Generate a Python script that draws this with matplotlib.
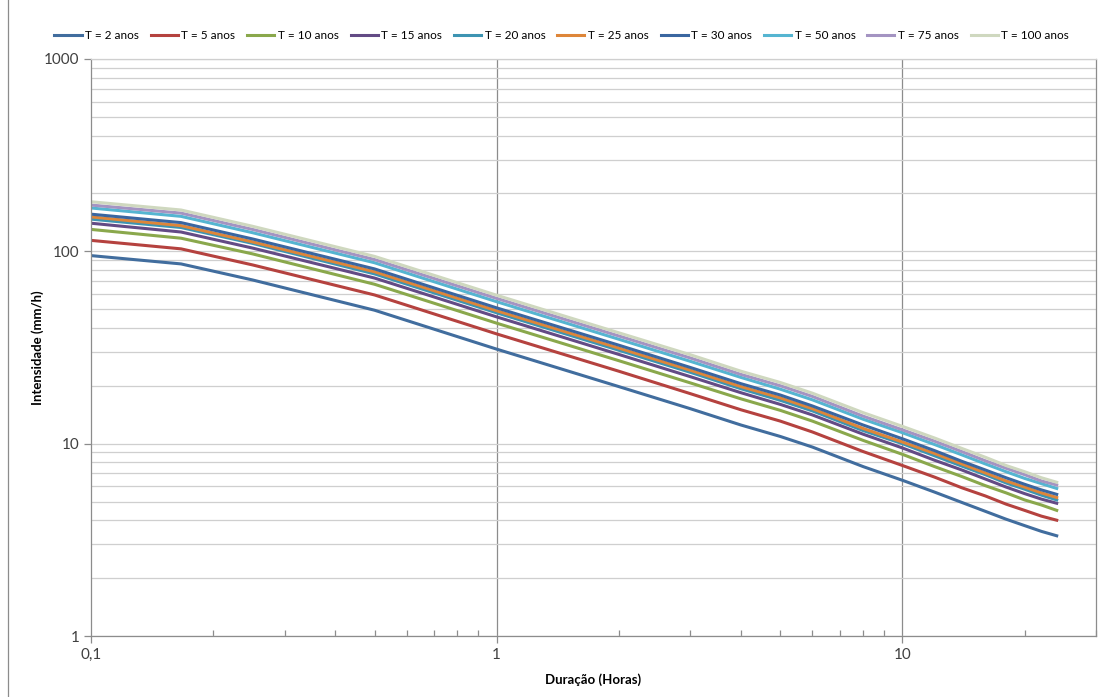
import matplotlib
matplotlib.use("Agg")
import matplotlib.pyplot as plt
from matplotlib.ticker import FixedLocator, FuncFormatter, NullFormatter, LogLocator
from matplotlib.lines import Line2D

plt.rcParams['font.family'] = ['Lato', 'DejaVu Sans']

# Duração (horas)
duracao = [0.1, 0.1667, 0.25, 0.5, 1, 2, 3, 4, 5, 6, 8, 10, 12, 14, 16, 18, 20, 22, 24]

# Intensidade (mm/h) por período de retorno
t2 = [95, 86, 71, 49.4, 31, 19.8, 15.2, 12.5, 10.9, 9.6, 7.6, 6.45, 5.6, 4.95, 4.45, 4.05, 3.75, 3.5, 3.32]
t5 = [114, 103, 85, 59.3, 37.2, 23.8, 18.2, 15.0, 13.1, 11.5, 9.1, 7.7, 6.7, 5.9, 5.35, 4.85, 4.5, 4.2, 4.0]
t10 = [130, 117, 97, 67.4, 42.3, 27.0, 20.7, 17.1, 14.9, 13.1, 10.4, 8.8, 7.6, 6.75, 6.05, 5.55, 5.1, 4.8, 4.5]
t15 = [140, 126, 104, 72.6, 45.6, 29.1, 22.3, 18.4, 16.0, 14.1, 11.2, 9.5, 8.2, 7.3, 6.55, 5.95, 5.5, 5.15, 4.9]
t20 = [147, 133, 110, 76.3, 47.9, 30.6, 23.5, 19.3, 16.8, 14.8, 11.7, 10.0, 8.65, 7.65, 6.9, 6.25, 5.8, 5.4, 5.1]
t25 = [151, 136, 112, 78.3, 49.1, 31.4, 24.1, 19.8, 17.3, 15.2, 12.0, 10.2, 8.9, 7.85, 7.05, 6.4, 5.95, 5.55, 5.25]
t30 = [156, 141, 116, 81.0, 50.8, 32.5, 24.9, 20.5, 17.9, 15.7, 12.5, 10.6, 9.2, 8.1, 7.3, 6.65, 6.15, 5.75, 5.45]
t50 = [168, 152, 125, 87.2, 54.7, 34.9, 26.8, 22.1, 19.2, 16.9, 13.4, 11.4, 9.9, 8.75, 7.85, 7.15, 6.6, 6.2, 5.85]
t75 = [174, 158, 130, 90.6, 56.9, 36.3, 27.9, 22.9, 20.0, 17.6, 13.9, 11.8, 10.3, 9.1, 8.15, 7.45, 6.9, 6.4, 6.1]
t100 = [181, 164, 135, 94.1, 59.1, 37.7, 29.0, 23.8, 20.8, 18.3, 14.5, 12.3, 10.7, 9.45, 8.5, 7.7, 7.15, 6.65, 6.3]

labels = ['T = 2 anos', 'T = 5 anos', 'T = 10 anos', 'T = 15 anos', 'T = 20 anos',
          'T = 25 anos', 'T = 30 anos', 'T = 50 anos', 'T = 75 anos', 'T = 100 anos']
series = [t2, t5, t10, t15, t20, t25, t30, t50, t75, t100]
colors = ['#416D9E', '#B5423F', '#8AA84C', '#634B85', '#3D94B2',
          '#DE8639', '#3A66A0', '#55B5D1', '#A494C2', '#CFD8BF']

fig = plt.figure(figsize=(11.08, 6.97), dpi=100)
ax = fig.add_axes([0.0821, 0.0875, 0.9071, 0.8279])

for vals, lab, c in zip(series, labels, colors):
    ax.plot(duracao, vals, color=c, linewidth=2.2, label=lab)

ax.set_xscale('log')
ax.set_yscale('log')
ax.set_xlim(0.1, 30)
ax.set_ylim(1, 1000)

# grid: horizontal major + minor, vertical only at 1 and 10
ax.yaxis.set_major_locator(FixedLocator([1, 10, 100, 1000]))
ax.yaxis.set_minor_locator(LogLocator(base=10, subs=range(2, 10)))
ax.yaxis.set_minor_formatter(NullFormatter())
ax.yaxis.set_major_formatter(FuncFormatter(lambda v, p: f"{v:g}"))
ax.grid(True, which='both', axis='y', color='#CFCFCF', linewidth=0.9)
for xv in [1, 10]:
    ax.axvline(xv, color='#8C8C8C', linewidth=0.9, zorder=0.5)
ax.set_axisbelow(True)

ax.xaxis.set_major_locator(FixedLocator([0.1, 1, 10]))
ax.xaxis.set_minor_locator(LogLocator(base=10, subs=range(2, 10)))
ax.xaxis.set_minor_formatter(NullFormatter())
ax.xaxis.set_major_formatter(FuncFormatter(lambda v, p: f"{v:g}".replace('.', ',')))

ax.tick_params(axis='both', which='major', labelsize=11, color='#8C8C8C',
               length=5, width=0.9, labelcolor='#404040')
ax.tick_params(axis='x', which='minor', direction='in', length=4, color='#8C8C8C', width=0.9)
ax.tick_params(axis='y', which='minor', length=0)

for s in ax.spines.values():
    s.set_color('#8C8C8C')
    s.set_linewidth(0.9)
ax.spines['top'].set_color('#CFCFCF')

ax.set_xlabel('Duração (Horas)', fontsize=9.5, fontweight='bold', labelpad=8)
ax.set_ylabel('Intensidade (mm/h)', fontsize=9.5, fontweight='bold', labelpad=0)

fig.legend(loc='upper center', bbox_to_anchor=(0.507, 0.972), ncol=10, frameon=False,
           fontsize=8.5, handlelength=2.3, columnspacing=1.0, handletextpad=0.3)

# outer chart border on the left
fig.add_artist(Line2D([0.0075, 0.0075], [0, 1], transform=fig.transFigure,
                      color='#8C8C8C', linewidth=0.9))

fig.savefig('out.png', dpi=100)
